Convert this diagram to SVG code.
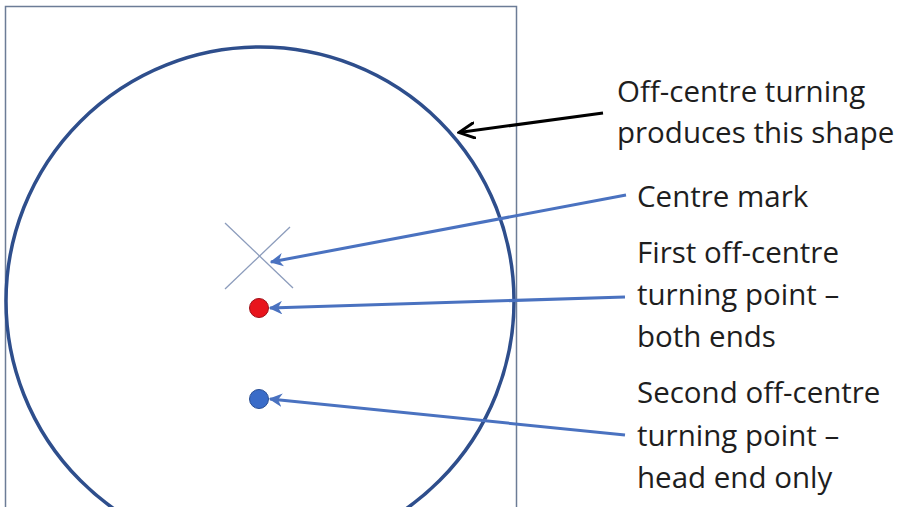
<svg xmlns="http://www.w3.org/2000/svg" width="915" height="507" viewBox="0 0 915 507">
<style>
.lbl{font-family:"Open Sans","Liberation Sans",sans-serif;font-size:29.5px;fill:#1e1e1e}
.blue{stroke:#4a72c0;stroke-width:3;fill:none}
</style>
<defs>
<marker id="ab" viewBox="0 0 10 10" refX="9" refY="5" markerWidth="4.5" markerHeight="4.5" orient="auto" markerUnits="strokeWidth">
<path d="M10,5 L0,0 L3,5 L0,10 Z" fill="#4a72c0"/>
</marker>
<marker id="ak" viewBox="0 0 10 10" refX="9" refY="5" markerWidth="6" markerHeight="6" orient="auto" markerUnits="strokeWidth">
<path d="M0,0.5 L9,5 L0,9.5" fill="none" stroke="#000" stroke-width="1.6"/>
</marker>
</defs>
<rect width="915" height="507" fill="#fff"/>
<g id="frame"><rect x="5.5" y="6.5" width="511" height="510" fill="none" stroke="#6c7c96" stroke-width="1.5"/></g>
<g id="shape"><circle cx="260" cy="301" r="254" fill="none" stroke="#2e4e8c" stroke-width="3.5"/></g>
<g id="centre-mark" stroke="#8c9cbc" stroke-width="1.3">
<line x1="225" y1="223" x2="293" y2="288"/>
<line x1="290" y1="227" x2="225" y2="289"/>
</g>
<g id="point1"><circle cx="259" cy="308" r="9.5" fill="#e8141c" stroke="#a01018" stroke-width="1"/></g>
<g id="point2"><circle cx="259" cy="399" r="9.5" fill="#3a6cc8" stroke="#2a4f94" stroke-width="1"/></g>
<g id="connectors">
<line x1="603" y1="113" x2="459" y2="132.5" stroke="#000" stroke-width="3" marker-end="url(#ak)"/>
<line class="blue" x1="626" y1="195" x2="271" y2="262" marker-end="url(#ab)"/>
<line class="blue" x1="625" y1="297" x2="270" y2="308" marker-end="url(#ab)"/>
<line class="blue" x1="625" y1="435" x2="270" y2="399" marker-end="url(#ab)"/>
</g>
<g id="labels">
<text class="lbl" x="617" y="102">Off-centre turning</text>
<text class="lbl" x="617" y="143">produces this shape</text>
<text class="lbl" x="637" y="207">Centre mark</text>
<text class="lbl" x="637" y="263">First off-centre</text>
<text class="lbl" x="637" y="305">turning point –</text>
<text class="lbl" x="637" y="347">both ends</text>
<text class="lbl" x="637" y="403">Second off-centre</text>
<text class="lbl" x="637" y="446">turning point –</text>
<text class="lbl" x="637" y="488">head end only</text>
</g>
</svg>
